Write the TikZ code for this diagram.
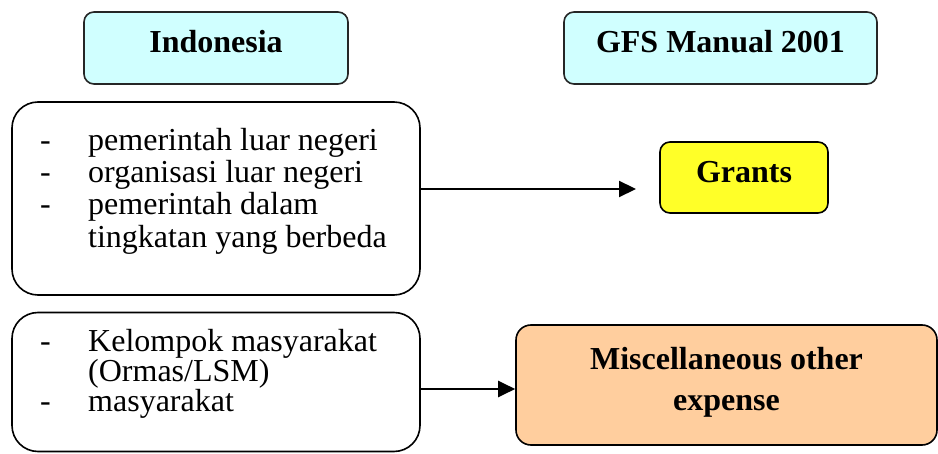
\documentclass[tikz,border=0pt]{standalone}
\usepackage{fontspec}
\setmainfont{Liberation Serif}
\usetikzlibrary{arrows.meta}
\definecolor{hdrfill}{RGB}{208,255,255}
\definecolor{grantfill}{RGB}{255,255,40}
\definecolor{miscfill}{RGB}{255,206,158}
\tikzset{
  x=1pt, y=-1pt,
  box/.style={draw=black, line width=1.6pt, inner sep=0pt},
  hdrbox/.style={box, fill=hdrfill, rounded corners=10pt, draw=black!85},
  srcbox/.style={box, fill=white, rounded corners=26pt},
  txt/.style={inner sep=0pt, font=\fontsize{32}{32}\selectfont},
  btxt/.style={txt, font=\fontsize{32}{32}\selectfont\bfseries, anchor=base},
  ltxt/.style={txt, anchor=base west},
  arr/.style={line width=2.2pt, -{Triangle[length=17pt,width=16pt]}},
}
\begin{document}
\begin{tikzpicture}
\useasboundingbox (0,0) rectangle (938,454);
% header boxes
\node[hdrbox, minimum width=264pt, minimum height=72pt] (ind) at (216,48) {};
\node[btxt] (indt) at (216,53) {Indonesia};
\node[hdrbox, minimum width=313pt, minimum height=72pt] (gfs) at (720.5,48) {};
\node[btxt] (gfst) at (720.5,53) {GFS Manual 2001};
% left box 1
\node[srcbox, minimum width=408pt, minimum height=193pt] (b1) at (216,198.5) {};
\node[ltxt] (d1) at (40,151) {-};
\node[ltxt] (t1) at (88,151) {pemerintah luar negeri};
\node[ltxt] (d2) at (40,183) {-};
\node[ltxt] (t2) at (88,183) {organisasi luar negeri};
\node[ltxt] (d3) at (40,215) {-};
\node[ltxt] (t3) at (88,215) {pemerintah dalam};
\node[ltxt] (t4) at (88,248) {tingkatan yang berbeda};
% left box 2
\node[srcbox, minimum width=408pt, minimum height=139pt] (b2) at (216,382) {};
\node[ltxt] (d4) at (40,352) {-};
\node[ltxt] (t5) at (88,352) {Kelompok masyarakat};
\node[ltxt] (t6) at (88,382) {(Ormas/LSM)};
\node[ltxt] (d5) at (40,412) {-};
\node[ltxt] (t7) at (88,412) {masyarakat};
% grants
\node[box, fill=grantfill, rounded corners=10pt, minimum width=168pt, minimum height=71pt] (gr) at (744,177.5) {};
\node[btxt] (grt) at (744,183) {Grants};
% misc
\node[box, fill=miscfill, rounded corners=15pt, minimum width=421pt, minimum height=120pt] (misc) at (726.5,385) {};
\node[btxt] (misct1) at (726.5,370) {Miscellaneous other};
\node[btxt] (misct2) at (726.5,411) {expense};
% arrows
\coordinate (a1e) at (636,189);
\draw[arr] (b1.east |- a1e) -- (a1e);
\coordinate (a2) at (420,389);
\draw[arr] (b2.east |- a2) -- (misc.west |- a2);
\end{tikzpicture}
\end{document}
